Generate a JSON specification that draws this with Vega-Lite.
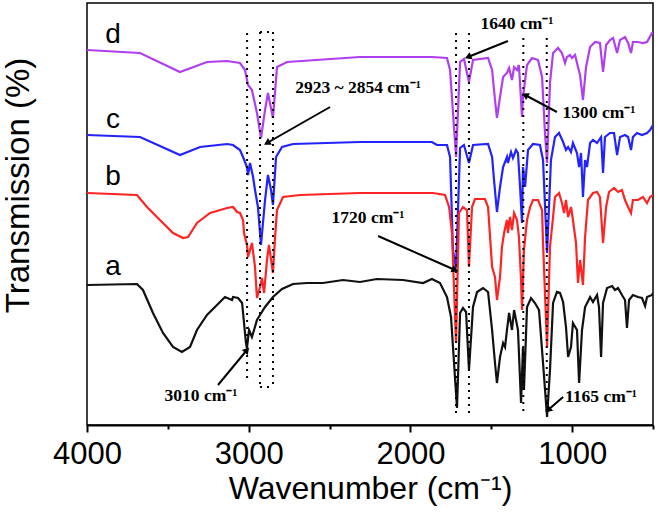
{
  "$schema": "https://vega.github.io/schema/vega-lite/v6.json",
  "width": 566,
  "height": 422,
  "autosize": {"type": "none"},
  "padding": {"left": 87, "top": 3, "right": 5, "bottom": 95},
  "background": "white",
  "config": {"view": {"stroke": "black", "strokeWidth": 1.5}},
  "datasets": {
    "spec": [
      {"s":"d","w":4000,"t":375},{"s":"d","w":3672,"t":372},{"s":"d","w":3425,"t":353},{"s":"d","w":3258,"t":363},{"s":"d","w":3134,"t":364},{"s":"d","w":3054,"t":362},{"s":"d","w":3023,"t":355},{"s":"d","w":3004,"t":340},{"s":"d","w":2980,"t":335},{"s":"d","w":2949,"t":312},{"s":"d","w":2924,"t":287},{"s":"d","w":2899,"t":315},{"s":"d","w":2881,"t":332},{"s":"d","w":2850,"t":307},{"s":"d","w":2825,"t":358},{"s":"d","w":2763,"t":363},{"s":"d","w":2312,"t":368},{"s":"d","w":1867,"t":368},{"s":"d","w":1774,"t":367},{"s":"d","w":1755,"t":355},{"s":"d","w":1718,"t":268},{"s":"d","w":1693,"t":363},{"s":"d","w":1669,"t":366},{"s":"d","w":1638,"t":343},{"s":"d","w":1613,"t":365},{"s":"d","w":1520,"t":367},{"s":"d","w":1495,"t":355},{"s":"d","w":1477,"t":325},{"s":"d","w":1465,"t":307},{"s":"d","w":1446,"t":328},{"s":"d","w":1427,"t":348},{"s":"d","w":1403,"t":352},{"s":"d","w":1390,"t":357},{"s":"d","w":1372,"t":345},{"s":"d","w":1359,"t":358},{"s":"d","w":1341,"t":355},{"s":"d","w":1329,"t":360},{"s":"d","w":1310,"t":308},{"s":"d","w":1304,"t":328},{"s":"d","w":1279,"t":360},{"s":"d","w":1248,"t":367},{"s":"d","w":1211,"t":365},{"s":"d","w":1186,"t":348},{"s":"d","w":1168,"t":292},{"s":"d","w":1155,"t":262},{"s":"d","w":1137,"t":342},{"s":"d","w":1118,"t":372},{"s":"d","w":1087,"t":377},{"s":"d","w":1063,"t":372},{"s":"d","w":1044,"t":362},{"s":"d","w":1032,"t":368},{"s":"d","w":1013,"t":370},{"s":"d","w":1001,"t":367},{"s":"d","w":982,"t":370},{"s":"d","w":964,"t":358},{"s":"d","w":951,"t":350},{"s":"d","w":933,"t":325},{"s":"d","w":914,"t":358},{"s":"d","w":889,"t":378},{"s":"d","w":858,"t":383},{"s":"d","w":828,"t":382},{"s":"d","w":809,"t":353},{"s":"d","w":790,"t":380},{"s":"d","w":766,"t":385},{"s":"d","w":747,"t":387},{"s":"d","w":722,"t":372},{"s":"d","w":704,"t":385},{"s":"d","w":673,"t":388},{"s":"d","w":654,"t":382},{"s":"d","w":636,"t":372},{"s":"d","w":624,"t":383},{"s":"d","w":593,"t":383},{"s":"d","w":562,"t":382},{"s":"d","w":537,"t":383},{"s":"d","w":506,"t":392},{"s":"d","w":500,"t":393},
      {"s":"c","w":4000,"t":290},{"s":"c","w":3672,"t":288},{"s":"c","w":3425,"t":270},{"s":"c","w":3301,"t":278},{"s":"c","w":3134,"t":281},{"s":"c","w":3097,"t":280},{"s":"c","w":3054,"t":275},{"s":"c","w":3035,"t":268},{"s":"c","w":3011,"t":258},{"s":"c","w":3004,"t":250},{"s":"c","w":2992,"t":262},{"s":"c","w":2973,"t":248},{"s":"c","w":2961,"t":235},{"s":"c","w":2943,"t":218},{"s":"c","w":2924,"t":180},{"s":"c","w":2899,"t":225},{"s":"c","w":2881,"t":250},{"s":"c","w":2862,"t":235},{"s":"c","w":2850,"t":220},{"s":"c","w":2831,"t":268},{"s":"c","w":2794,"t":278},{"s":"c","w":2726,"t":281},{"s":"c","w":2312,"t":283},{"s":"c","w":1867,"t":283},{"s":"c","w":1836,"t":280},{"s":"c","w":1774,"t":280},{"s":"c","w":1755,"t":268},{"s":"c","w":1737,"t":175},{"s":"c","w":1718,"t":157},{"s":"c","w":1693,"t":277},{"s":"c","w":1669,"t":280},{"s":"c","w":1638,"t":262},{"s":"c","w":1613,"t":280},{"s":"c","w":1520,"t":281},{"s":"c","w":1495,"t":268},{"s":"c","w":1483,"t":245},{"s":"c","w":1465,"t":213},{"s":"c","w":1446,"t":238},{"s":"c","w":1427,"t":258},{"s":"c","w":1403,"t":268},{"s":"c","w":1397,"t":262},{"s":"c","w":1378,"t":273},{"s":"c","w":1366,"t":267},{"s":"c","w":1347,"t":275},{"s":"c","w":1335,"t":272},{"s":"c","w":1322,"t":238},{"s":"c","w":1310,"t":202},{"s":"c","w":1304,"t":258},{"s":"c","w":1291,"t":238},{"s":"c","w":1273,"t":275},{"s":"c","w":1242,"t":281},{"s":"c","w":1199,"t":280},{"s":"c","w":1180,"t":265},{"s":"c","w":1155,"t":172},{"s":"c","w":1131,"t":265},{"s":"c","w":1106,"t":288},{"s":"c","w":1081,"t":292},{"s":"c","w":1056,"t":283},{"s":"c","w":1038,"t":275},{"s":"c","w":1025,"t":278},{"s":"c","w":1007,"t":273},{"s":"c","w":995,"t":282},{"s":"c","w":970,"t":272},{"s":"c","w":957,"t":258},{"s":"c","w":945,"t":272},{"s":"c","w":933,"t":228},{"s":"c","w":920,"t":265},{"s":"c","w":908,"t":258},{"s":"c","w":889,"t":282},{"s":"c","w":871,"t":285},{"s":"c","w":846,"t":282},{"s":"c","w":821,"t":288},{"s":"c","w":809,"t":252},{"s":"c","w":797,"t":288},{"s":"c","w":766,"t":292},{"s":"c","w":741,"t":292},{"s":"c","w":722,"t":270},{"s":"c","w":704,"t":288},{"s":"c","w":673,"t":290},{"s":"c","w":654,"t":288},{"s":"c","w":636,"t":275},{"s":"c","w":624,"t":288},{"s":"c","w":599,"t":292},{"s":"c","w":568,"t":290},{"s":"c","w":537,"t":292},{"s":"c","w":518,"t":295},{"s":"c","w":500,"t":300},
      {"s":"b","w":4000,"t":232},{"s":"b","w":3691,"t":230},{"s":"b","w":3629,"t":218},{"s":"b","w":3549,"t":205},{"s":"b","w":3468,"t":192},{"s":"b","w":3406,"t":187},{"s":"b","w":3375,"t":188},{"s":"b","w":3320,"t":202},{"s":"b","w":3239,"t":212},{"s":"b","w":3134,"t":217},{"s":"b","w":3097,"t":218},{"s":"b","w":3072,"t":213},{"s":"b","w":3054,"t":212},{"s":"b","w":3035,"t":205},{"s":"b","w":3029,"t":192},{"s":"b","w":3011,"t":180},{"s":"b","w":3004,"t":168},{"s":"b","w":2980,"t":182},{"s":"b","w":2961,"t":158},{"s":"b","w":2949,"t":127},{"s":"b","w":2930,"t":138},{"s":"b","w":2918,"t":147},{"s":"b","w":2905,"t":132},{"s":"b","w":2887,"t":165},{"s":"b","w":2875,"t":180},{"s":"b","w":2850,"t":152},{"s":"b","w":2837,"t":188},{"s":"b","w":2825,"t":215},{"s":"b","w":2788,"t":228},{"s":"b","w":2683,"t":230},{"s":"b","w":2312,"t":232},{"s":"b","w":1860,"t":232},{"s":"b","w":1786,"t":230},{"s":"b","w":1761,"t":218},{"s":"b","w":1743,"t":192},{"s":"b","w":1718,"t":82},{"s":"b","w":1700,"t":212},{"s":"b","w":1675,"t":218},{"s":"b","w":1650,"t":215},{"s":"b","w":1638,"t":158},{"s":"b","w":1619,"t":218},{"s":"b","w":1601,"t":226},{"s":"b","w":1539,"t":226},{"s":"b","w":1520,"t":218},{"s":"b","w":1495,"t":158},{"s":"b","w":1477,"t":148},{"s":"b","w":1465,"t":125},{"s":"b","w":1446,"t":148},{"s":"b","w":1434,"t":178},{"s":"b","w":1421,"t":192},{"s":"b","w":1403,"t":205},{"s":"b","w":1397,"t":192},{"s":"b","w":1384,"t":208},{"s":"b","w":1372,"t":195},{"s":"b","w":1359,"t":212},{"s":"b","w":1341,"t":205},{"s":"b","w":1329,"t":188},{"s":"b","w":1316,"t":145},{"s":"b","w":1310,"t":115},{"s":"b","w":1298,"t":175},{"s":"b","w":1279,"t":205},{"s":"b","w":1260,"t":218},{"s":"b","w":1242,"t":225},{"s":"b","w":1211,"t":225},{"s":"b","w":1186,"t":215},{"s":"b","w":1180,"t":182},{"s":"b","w":1155,"t":78},{"s":"b","w":1137,"t":178},{"s":"b","w":1118,"t":208},{"s":"b","w":1106,"t":228},{"s":"b","w":1081,"t":232},{"s":"b","w":1063,"t":222},{"s":"b","w":1050,"t":212},{"s":"b","w":1038,"t":225},{"s":"b","w":1025,"t":208},{"s":"b","w":1007,"t":218},{"s":"b","w":995,"t":205},{"s":"b","w":976,"t":182},{"s":"b","w":964,"t":142},{"s":"b","w":951,"t":165},{"s":"b","w":933,"t":140},{"s":"b","w":920,"t":188},{"s":"b","w":902,"t":225},{"s":"b","w":871,"t":232},{"s":"b","w":846,"t":233},{"s":"b","w":828,"t":228},{"s":"b","w":809,"t":182},{"s":"b","w":790,"t":218},{"s":"b","w":772,"t":233},{"s":"b","w":741,"t":237},{"s":"b","w":716,"t":233},{"s":"b","w":692,"t":235},{"s":"b","w":673,"t":225},{"s":"b","w":654,"t":218},{"s":"b","w":636,"t":212},{"s":"b","w":624,"t":225},{"s":"b","w":593,"t":225},{"s":"b","w":562,"t":228},{"s":"b","w":537,"t":222},{"s":"b","w":518,"t":228},{"s":"b","w":500,"t":230},
      {"s":"a","w":4000,"t":140},{"s":"a","w":3691,"t":141},{"s":"a","w":3654,"t":135},{"s":"a","w":3592,"t":112},{"s":"a","w":3530,"t":92},{"s":"a","w":3468,"t":78},{"s":"a","w":3413,"t":73},{"s":"a","w":3363,"t":78},{"s":"a","w":3320,"t":95},{"s":"a","w":3258,"t":110},{"s":"a","w":3196,"t":120},{"s":"a","w":3147,"t":128},{"s":"a","w":3103,"t":125},{"s":"a","w":3097,"t":128},{"s":"a","w":3066,"t":127},{"s":"a","w":3041,"t":122},{"s":"a","w":3029,"t":102},{"s":"a","w":3017,"t":82},{"s":"a","w":3011,"t":77},{"s":"a","w":2998,"t":95},{"s":"a","w":2980,"t":88},{"s":"a","w":2967,"t":95},{"s":"a","w":2949,"t":105},{"s":"a","w":2930,"t":110},{"s":"a","w":2899,"t":118},{"s":"a","w":2850,"t":128},{"s":"a","w":2794,"t":136},{"s":"a","w":2726,"t":141},{"s":"a","w":2640,"t":142},{"s":"a","w":2541,"t":142},{"s":"a","w":2417,"t":145},{"s":"a","w":2312,"t":143},{"s":"a","w":2207,"t":146},{"s":"a","w":2046,"t":145},{"s":"a","w":1922,"t":142},{"s":"a","w":1867,"t":146},{"s":"a","w":1817,"t":142},{"s":"a","w":1774,"t":128},{"s":"a","w":1749,"t":108},{"s":"a","w":1712,"t":17},{"s":"a","w":1693,"t":112},{"s":"a","w":1675,"t":117},{"s":"a","w":1656,"t":113},{"s":"a","w":1638,"t":55},{"s":"a","w":1613,"t":118},{"s":"a","w":1588,"t":133},{"s":"a","w":1551,"t":137},{"s":"a","w":1520,"t":133},{"s":"a","w":1495,"t":95},{"s":"a","w":1477,"t":62},{"s":"a","w":1465,"t":42},{"s":"a","w":1446,"t":68},{"s":"a","w":1427,"t":82},{"s":"a","w":1415,"t":78},{"s":"a","w":1403,"t":95},{"s":"a","w":1390,"t":112},{"s":"a","w":1372,"t":95},{"s":"a","w":1359,"t":115},{"s":"a","w":1347,"t":105},{"s":"a","w":1335,"t":95},{"s":"a","w":1316,"t":22},{"s":"a","w":1304,"t":78},{"s":"a","w":1298,"t":35},{"s":"a","w":1279,"t":118},{"s":"a","w":1254,"t":127},{"s":"a","w":1230,"t":122},{"s":"a","w":1205,"t":115},{"s":"a","w":1180,"t":62},{"s":"a","w":1155,"t":8},{"s":"a","w":1137,"t":55},{"s":"a","w":1118,"t":122},{"s":"a","w":1094,"t":133},{"s":"a","w":1075,"t":132},{"s":"a","w":1056,"t":123},{"s":"a","w":1038,"t":98},{"s":"a","w":1025,"t":68},{"s":"a","w":1007,"t":78},{"s":"a","w":995,"t":102},{"s":"a","w":970,"t":95},{"s":"a","w":957,"t":42},{"s":"a","w":939,"t":95},{"s":"a","w":920,"t":118},{"s":"a","w":889,"t":128},{"s":"a","w":871,"t":123},{"s":"a","w":846,"t":130},{"s":"a","w":834,"t":118},{"s":"a","w":821,"t":68},{"s":"a","w":809,"t":122},{"s":"a","w":784,"t":137},{"s":"a","w":753,"t":139},{"s":"a","w":735,"t":135},{"s":"a","w":716,"t":137},{"s":"a","w":692,"t":130},{"s":"a","w":673,"t":125},{"s":"a","w":661,"t":97},{"s":"a","w":648,"t":125},{"s":"a","w":624,"t":130},{"s":"a","w":593,"t":128},{"s":"a","w":568,"t":127},{"s":"a","w":549,"t":119},{"s":"a","w":537,"t":128},{"s":"a","w":506,"t":130},{"s":"a","w":500,"t":132}
    ],
    "dots": [
      {"w1":3010,"w2":3010,"t1":392,"t2":43},
      {"w1":2930,"w2":2930,"t1":393,"t2":38},
      {"w1":2850,"w2":2850,"t1":393,"t2":38},
      {"w1":2930,"w2":2850,"t1":393,"t2":393},
      {"w1":2930,"w2":2850,"t1":38,"t2":38},
      {"w1":1718,"w2":1718,"t1":392,"t2":8},
      {"w1":1638,"w2":1638,"t1":392,"t2":8},
      {"w1":1302,"w2":1302,"t1":387,"t2":10},
      {"w1":1157,"w2":1157,"t1":387,"t2":10}
    ],
    "arrows": [
      {"w1":2497,"t1":318,"w2":2887,"t2":282},
      {"w1":1397,"t1":384,"w2":1644,"t2":368},
      {"w1":1094,"t1":313,"w2":1291,"t2":330},
      {"w1":2200,"t1":189,"w2":1724,"t2":155},
      {"w1":3190,"t1":40,"w2":3011,"t2":75},
      {"w1":1056,"t1":28,"w2":1149,"t2":15}
    ],
    "notes": [
      {"w":2324,"t":337,"label":"2923 ~ 2854 cm⁻¹"},
      {"w":1341,"t":401,"label":"1640 cm⁻¹"},
      {"w":834,"t":312,"label":"1300 cm⁻¹"},
      {"w":2262,"t":207,"label":"1720 cm⁻¹"},
      {"w":3295,"t":29,"label":"3010 cm⁻¹"},
      {"w":821,"t":28,"label":"1165 cm⁻¹"}
    ],
    "letters": [
      {"w":3839,"t":382,"label":"d"},
      {"w":3839,"t":297,"label":"c"},
      {"w":3839,"t":240,"label":"b"},
      {"w":3839,"t":150,"label":"a"}
    ]
  },
  "layer": [
    {
      "data": {"name": "spec"},
      "mark": {"type": "line", "strokeWidth": 2.2, "clip": true, "interpolate": "linear"},
      "encoding": {
        "x": {
          "field": "w", "type": "quantitative",
          "scale": {"domain": [500, 4000], "reverse": true, "nice": false, "zero": false},
          "axis": {
            "title": "Wavenumber (cm⁻¹)",
            "values": [4000, 3500, 3000, 2500, 2000, 1500, 1000, 500],
            "labelExpr": "datum.value % 1000 == 0 ? datum.label : ''",
            "format": "d",
            "labelFont": "Liberation Sans", "labelFontSize": 31, "labelColor": "black",
            "labelFlush": false, "labelOverlap": false, "labelPadding": 7,
            "tickColor": "black", "tickWidth": 2,
            "tickSize": {"condition": {"test": "datum.value % 1000 == 0", "value": 7}, "value": 4},
            "domainColor": "black", "domainWidth": 2, "grid": false,
            "titleFont": "Liberation Sans", "titleFontSize": 32, "titleFontWeight": "normal", "titleColor": "black",
            "titleY": 73, "titleBaseline": "alphabetic"
          }
        },
        "y": {
          "field": "t", "type": "quantitative",
          "scale": {"domain": [0, 422], "nice": false, "zero": false},
          "axis": {
            "title": "Transmission (%)",
            "labels": false, "ticks": false, "domain": false, "grid": false,
            "titleFont": "Liberation Sans", "titleFontSize": 33, "titleFontWeight": "normal", "titleColor": "black",
            "titleX": -59, "titleY": 182, "titleBaseline": "alphabetic", "titleAngle": -90
          }
        },
        "color": {
          "field": "s", "type": "nominal",
          "scale": {"domain": ["a", "b", "c", "d"], "range": ["#111111", "#ff2424", "#2323ff", "#b03ff0"]},
          "legend": null
        }
      }
    },
    {
      "data": {"name": "dots"},
      "mark": {"type": "rule", "color": "black", "strokeWidth": 2, "strokeDash": [2, 5]},
      "encoding": {
        "x": {"field": "w1", "type": "quantitative"},
        "x2": {"field": "w2"},
        "y": {"field": "t1", "type": "quantitative"},
        "y2": {"field": "t2"}
      }
    },
    {
      "data": {"name": "arrows"},
      "mark": {"type": "rule", "color": "black", "strokeWidth": 2},
      "encoding": {
        "x": {"field": "w1", "type": "quantitative"},
        "x2": {"field": "w2"},
        "y": {"field": "t1", "type": "quantitative"},
        "y2": {"field": "t2"}
      }
    },
    {
      "data": {"name": "arrows"},
      "transform": [
        {"calculate": "atan2(-(datum.w2 - datum.w1) * 0.1617, (datum.t2 - datum.t1)) * 180 / PI", "as": "ang"}
      ],
      "mark": {"type": "point", "shape": "triangle-up", "filled": true, "color": "black", "opacity": 1, "size": 60},
      "encoding": {
        "x": {"field": "w2", "type": "quantitative"},
        "y": {"field": "t2", "type": "quantitative"},
        "angle": {"field": "ang", "type": "quantitative", "scale": null}
      }
    },
    {
      "data": {"name": "notes"},
      "mark": {"type": "text", "font": "Liberation Serif", "fontWeight": "bold", "fontSize": 17.5, "color": "black", "align": "center", "baseline": "middle"},
      "encoding": {
        "x": {"field": "w", "type": "quantitative"},
        "y": {"field": "t", "type": "quantitative"},
        "text": {"field": "label"}
      }
    },
    {
      "data": {"name": "letters"},
      "mark": {"type": "text", "font": "Liberation Sans", "fontSize": 28, "color": "black", "align": "center", "baseline": "alphabetic"},
      "encoding": {
        "x": {"field": "w", "type": "quantitative"},
        "y": {"field": "t", "type": "quantitative"},
        "text": {"field": "label"}
      }
    }
  ]
}
